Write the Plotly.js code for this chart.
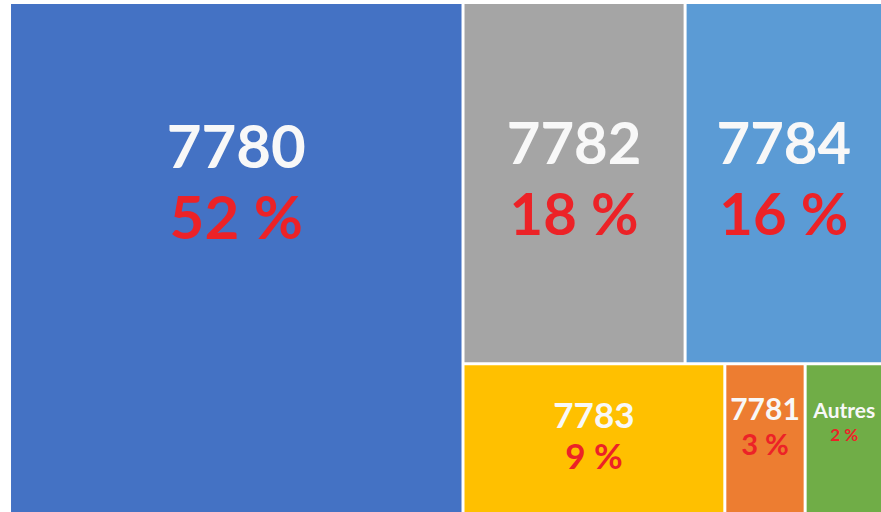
<!DOCTYPE html>
<html>
<head>
<meta charset="utf-8">
<script src="https://cdn.plot.ly/plotly-3.0.1.min.js"></script>
<style>html,body{margin:0;padding:0;background:#fff;}#chart{width:881px;height:512px;}</style>
</head>
<body>
<div id="chart"></div>
<script>
// Data (tile sizes estimated from the areas in the picture; shown labels are rounded)
const labels = ["7780", "7782", "7784", "7783", "7781", "Autres"];
const areaValues = [52, 18, 16, 8.8, 2.7, 2.6];
const pctLabels = ["52 %", "18 %", "16 %", "9 %", "3 %", "2 %"];
const parentsArr = ["", "", "", "", "", ""];

// Styles
const tileColors = ["#4472C4", "#A5A5A5", "#5B9BD5", "#FFC000", "#ED7D31", "#70AD47"];
const baseSizes = [55, 55, 55, 31.5, 27, 18];
const labelSizes = [60, 58, 58, 35, 30, 21];
const pctSizes = [60, 58, 58, 35, 29, 17];
const topGap = [90, 86, 86, 19, 17.6, 26]; // spacer line height (px) above the label
const red = "#EC2227";

const templates = labels.map((l, i) =>
  "<span style='font-size:" + topGap[i] + "px'>&nbsp;</span><br>" +
  "<b><span style='font-size:" + labelSizes[i] + "px'>%{label}</span></b><br>" +
  "<b><span style='color:" + red + ";font-size:" + pctSizes[i] + "px'>%{text}</span></b>"
);

const trace = {
  type: "treemap",
  labels: labels,
  parents: parentsArr,
  values: areaValues,
  text: pctLabels,
  sort: true,
  branchvalues: "remainder",
  texttemplate: templates,
  textposition: "top center",
  textfont: { family: "Lato, 'Open Sans', sans-serif", size: baseSizes, color: "#F8F8F8" },
  marker: { colors: tileColors, line: { color: "#ffffff", width: 0 }, pad: { t: 0, l: 0, r: 0, b: 0 } },
  tiling: { packing: "squarify", pad: 3 },
  leaf: { opacity: 1 },
  pathbar: { visible: false },
  hoverinfo: "none",
  domain: { x: [0.0125, 1], y: [0, 0.992] }
};

const layout = {
  width: 881,
  height: 512,
  margin: { l: 0, r: 0, t: 0, b: 0 },
  paper_bgcolor: "#ffffff",
  showlegend: false
};

Plotly.newPlot("chart", [trace], layout, { displayModeBar: false, staticPlot: true });
</script>
</body>
</html>
